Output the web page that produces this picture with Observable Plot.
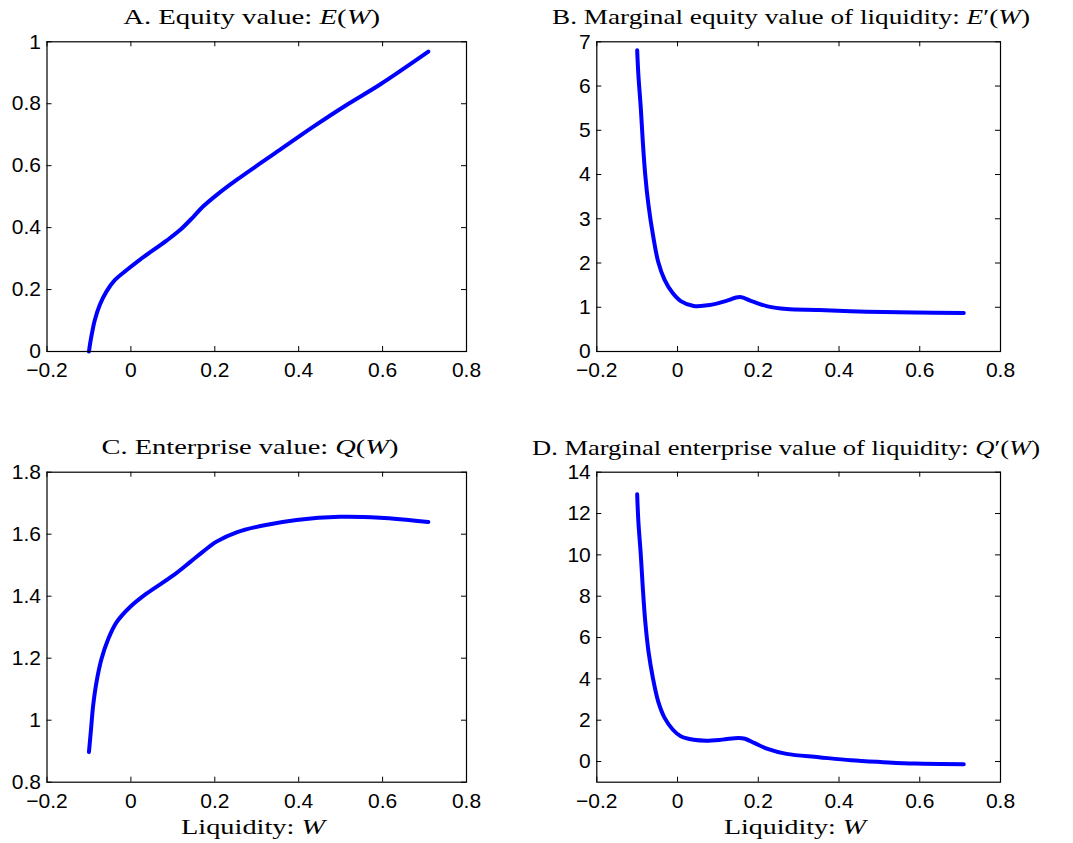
<!DOCTYPE html>
<html>
<head>
<meta charset="utf-8">
<script src="https://cdn.jsdelivr.net/npm/d3@7"></script>
<script src="https://cdn.jsdelivr.net/npm/@observablehq/plot@0.6"></script>
<style>
  html, body { margin: 0; padding: 0; background: #fff; }
  #root { position: relative; width: 1073px; height: 843px; background: #fff; overflow: hidden; }
  #root > svg { position: absolute; }
  #root svg.panel text { font-family: 'Liberation Sans', Arial, sans-serif !important; font-size: 21px !important; }
</style>
</head>
<body>
<div id="root"></div>
<script>
// ---------- data ----------
const xTicks = [-0.2, 0, 0.2, 0.4, 0.6, 0.8];
const xDomain = [-0.2, 0.8];

// Panel A: Equity value E(W)
const wA = [-0.100, -0.095, -0.086, -0.074, -0.058, -0.038, -0.010, 0.021, 0.085, 0.117, 0.149, 0.172, 0.204, 0.252, 0.355, 0.435, 0.514, 0.594, 0.709];
const eA = [0.000, 0.043, 0.102, 0.151, 0.194, 0.231, 0.263, 0.296, 0.358, 0.392, 0.435, 0.468, 0.505, 0.554, 0.651, 0.726, 0.796, 0.862, 0.968];
const yTicksA = [0, 0.2, 0.4, 0.6, 0.8, 1];
const yDomainA = [0, 1];

// Panel B: Marginal equity value of liquidity E'(W)
const wB = [-0.100, -0.097, -0.091, -0.086, -0.080, -0.072, -0.061, -0.048, -0.032, -0.012, 0.008, 0.040, 0.080, 0.119, 0.155, 0.183, 0.223, 0.270, 0.350, 0.469, 0.588, 0.709];
const eB = [6.81, 6.25, 5.50, 4.74, 3.99, 3.31, 2.64, 2.03, 1.62, 1.32, 1.14, 1.03, 1.05, 1.14, 1.23, 1.14, 1.02, 0.96, 0.94, 0.90, 0.88, 0.87];
const yTicksB = [0, 1, 2, 3, 4, 5, 6, 7];
const yDomainB = [0, 7];

// Panel C: Enterprise value Q(W)
const wC = [-0.100, -0.095, -0.090, -0.082, -0.070, -0.054, -0.034, -0.002, 0.037, 0.101, 0.141, 0.172, 0.204, 0.252, 0.315, 0.395, 0.498, 0.594, 0.709];
const qC = [0.897, 0.972, 1.047, 1.123, 1.198, 1.262, 1.316, 1.365, 1.408, 1.467, 1.510, 1.544, 1.576, 1.606, 1.628, 1.646, 1.656, 1.653, 1.639];
const yTicksC = [0.8, 1, 1.2, 1.4, 1.6, 1.8];
const yDomainC = [0.8, 1.8];

// Panel D: Marginal enterprise value of liquidity Q'(W)
const wD = [-0.100, -0.097, -0.091, -0.086, -0.080, -0.072, -0.061, -0.048, -0.032, -0.012, 0.008, 0.040, 0.072, 0.111, 0.151, 0.167, 0.191, 0.223, 0.270, 0.350, 0.429, 0.509, 0.588, 0.709];
const qD = [12.93, 11.61, 10.0, 8.39, 6.78, 5.33, 4.04, 2.91, 2.11, 1.55, 1.22, 1.05, 1.01, 1.06, 1.14, 1.10, 0.89, 0.61, 0.37, 0.21, 0.06, -0.03, -0.10, -0.13];
const yTicksD = [0, 2, 4, 6, 8, 10, 12, 14];
const yDomainD = [-1, 14];

// ---------- drawing ----------
const fmt = d => (d < 0 ? "\u2212" : "") + String(Math.abs(d));
const root = document.getElementById("root");

function panel({w, v, yTicks, yDomain, left, top, width, height, mL, mR, mT, mB}) {
  const data = w.map((x, i) => ({x, y: v[i]}));
  const innerH = height - mT - mB;
  const innerW = width - mL - mR;
  const tick = 5;
  const svg = Plot.plot({
    width, height,
    marginLeft: mL, marginRight: mR, marginTop: mT, marginBottom: mB,
    style: {fontFamily: "'Liberation Sans', Arial, sans-serif", fontSize: "21px", color: "black", background: "transparent", overflow: "visible"},
    x: {domain: xDomain, label: null},
    y: {domain: yDomain, label: null},
    marks: [
      Plot.line(data, {x: "x", y: "y", stroke: "#0000ff", strokeWidth: 4, curve: "catmull-rom"}),
      Plot.tickX(xTicks, {x: d => d, stroke: "black", strokeWidth: 1, insetTop: innerH - tick}),
      Plot.tickX(xTicks, {x: d => d, stroke: "black", strokeWidth: 1, insetBottom: innerH - tick}),
      Plot.tickY(yTicks, {y: d => d, stroke: "black", strokeWidth: 1, insetRight: innerW - tick}),
      Plot.tickY(yTicks, {y: d => d, stroke: "black", strokeWidth: 1, insetLeft: innerW - tick}),
      Plot.frame({stroke: "black", strokeWidth: 1.2}),
      Plot.axisX({ticks: xTicks, tickSize: 0, tickPadding: 11, tickFormat: fmt, label: null, fill: "black", fontSize: 21}),
      Plot.axisY({ticks: yTicks, tickSize: 0, tickPadding: 6, tickFormat: fmt, label: null, fill: "black", fontSize: 21})
    ]
  });
  svg.classList.add("panel");
  svg.style.left = left + "px";
  svg.style.top = top + "px";
  svg.querySelectorAll("text").forEach(t => {
    t.setAttribute("font-size", "21");
    t.style.fontSize = "21px";
  });
  root.appendChild(svg);
}

panel({w: wA, v: eA, yTicks: yTicksA, yDomain: yDomainA, left: 0, top: 0, width: 536, height: 420, mL: 46.5, mR: 70, mT: 41.3, mB: 69});
panel({w: wB, v: eB, yTicks: yTicksB, yDomain: yDomainB, left: 536, top: 0, width: 537, height: 420, mL: 60.3, mR: 73, mT: 41.3, mB: 69});
panel({w: wC, v: qC, yTicks: yTicksC, yDomain: yDomainC, left: 0, top: 420, width: 536, height: 423, mL: 46.5, mR: 70, mT: 51.7, mB: 61.3});
panel({w: wD, v: qD, yTicks: yTicksD, yDomain: yDomainD, left: 536, top: 420, width: 537, height: 423, mL: 60.3, mR: 73, mT: 51.7, mB: 61.3});

// ---------- titles & axis labels (overlay) ----------
const NS = "http://www.w3.org/2000/svg";
const overlay = document.createElementNS(NS, "svg");
overlay.setAttribute("width", 1073);
overlay.setAttribute("height", 843);
overlay.style.left = "0px";
overlay.style.top = "0px";
overlay.style.pointerEvents = "none";
root.appendChild(overlay);

function label(parts, cx, baseline, len) {
  const t = document.createElementNS(NS, "text");
  t.setAttribute("x", cx);
  t.setAttribute("y", baseline);
  t.setAttribute("text-anchor", "middle");
  t.setAttribute("font-family", "'Liberation Serif', 'Times New Roman', serif");
  t.setAttribute("font-size", "22");
  t.setAttribute("fill", "black");
  t.setAttribute("textLength", len);
  t.setAttribute("lengthAdjust", "spacingAndGlyphs");
  for (const [s, it] of parts) {
    const sp = document.createElementNS(NS, "tspan");
    if (it) sp.setAttribute("font-style", "italic");
    sp.textContent = s;
    t.appendChild(sp);
  }
  overlay.appendChild(t);
}

label([["A. Equity value: ", false], ["E", true], ["(", false], ["W", true], [")", false]], 251.7, 24, 257);
label([["B. Marginal equity value of liquidity: ", false], ["E", true], ["\u2032(", false], ["W", true], [")", false]], 791, 24, 478);
label([["C. Enterprise value: ", false], ["Q", true], ["(", false], ["W", true], [")", false]], 250, 454, 297);
label([["D. Marginal enterprise value of liquidity: ", false], ["Q", true], ["\u2032(", false], ["W", true], [")", false]], 786, 455, 508);
label([["Liquidity: ", false], ["W", true]], 253, 834, 144);
label([["Liquidity: ", false], ["W", true]], 795, 834, 142);
</script>
</body>
</html>
